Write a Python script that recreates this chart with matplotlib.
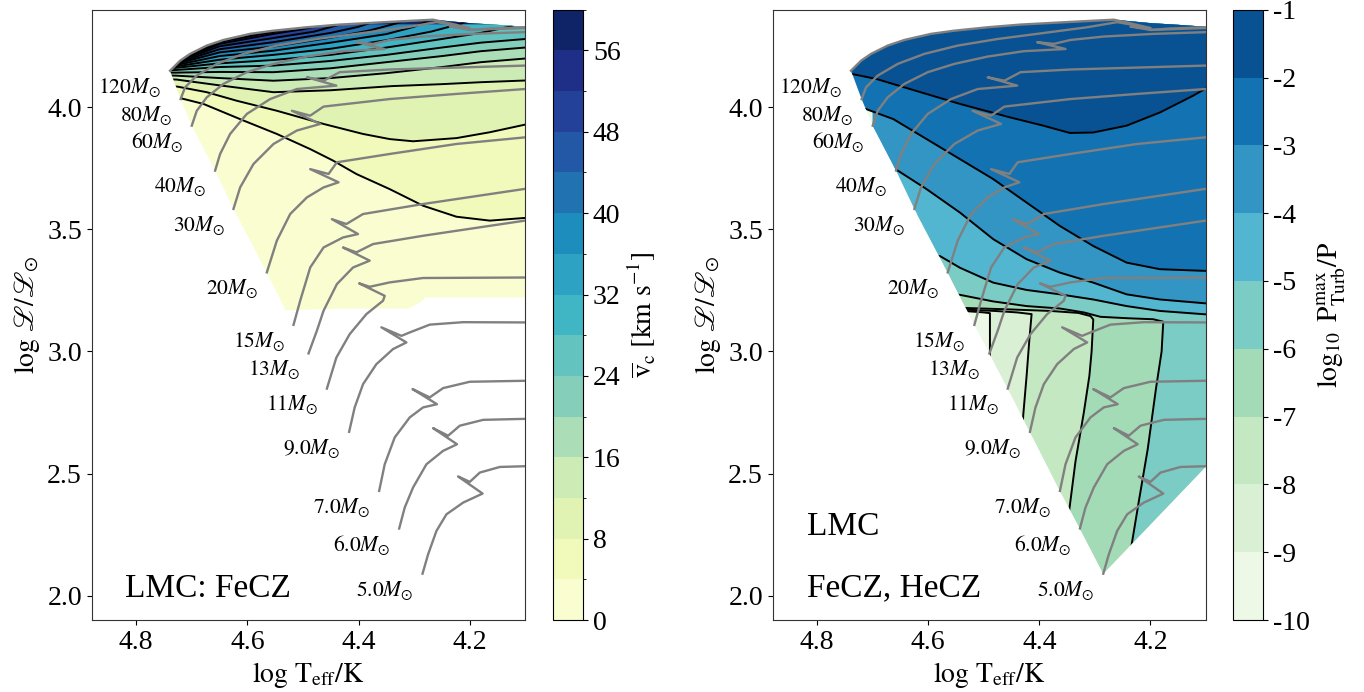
import matplotlib
matplotlib.use("Agg")
from matplotlib import pyplot as plt
from matplotlib.patches import Polygon
from matplotlib.colors import ListedColormap, BoundaryNorm
from matplotlib.cm import ScalarMappable

plt.rcParams['font.family'] = ['Liberation Serif', 'DejaVu Serif']
plt.rcParams['mathtext.fontset'] = 'stix'

# evolutionary tracks (log Teff, log L)
track_120 = [(4.739, 4.150), (4.721, 4.191), (4.703, 4.219), (4.673, 4.253), (4.643, 4.276),
             (4.595, 4.301), (4.553, 4.314), (4.493, 4.328), (4.434, 4.339), (4.344, 4.350),
             (4.266, 4.359), (4.236, 4.344), (4.200, 4.325), (4.236, 4.331), (4.200, 4.317),
             (4.164, 4.323), (4.101, 4.328)]
track_80 = [(4.720, 4.034), (4.712, 4.082), (4.691, 4.130), (4.655, 4.178), (4.607, 4.219),
            (4.547, 4.253), (4.475, 4.280), (4.404, 4.301), (4.314, 4.328), (4.260, 4.349),
            (4.224, 4.335), (4.200, 4.317), (4.101, 4.325)]
track_60 = [(4.700, 3.925), (4.691, 3.986), (4.673, 4.041), (4.643, 4.096), (4.601, 4.144),
            (4.553, 4.178), (4.493, 4.208), (4.428, 4.230), (4.353, 4.239), (4.404, 4.267),
            (4.374, 4.260), (4.344, 4.276), (4.284, 4.290), (4.194, 4.301), (4.101, 4.308)]
track_40 = [(4.658, 3.741), (4.649, 3.809), (4.631, 3.891), (4.601, 3.973), (4.559, 4.034),
            (4.511, 4.075), (4.440, 4.089), (4.493, 4.123), (4.463, 4.109), (4.434, 4.144),
            (4.344, 4.155), (4.101, 4.171)]
track_30 = [(4.625, 3.584), (4.613, 3.672), (4.589, 3.768), (4.553, 3.850), (4.511, 3.905),
            (4.469, 3.932), (4.520, 3.986), (4.487, 3.966), (4.463, 4.003), (4.344, 4.034),
            (4.224, 4.055), (4.101, 4.075)]
track_20 = [(4.565, 3.324), (4.547, 3.454), (4.523, 3.563), (4.493, 3.631), (4.463, 3.672),
            (4.436, 3.693), (4.487, 3.747), (4.454, 3.727), (4.439, 3.775), (4.344, 3.809),
            (4.224, 3.850), (4.101, 3.877)]
track_15 = [(4.517, 3.109), (4.505, 3.208), (4.487, 3.344), (4.463, 3.426), (4.428, 3.467),
            (4.401, 3.481), (4.448, 3.542), (4.422, 3.522), (4.392, 3.563), (4.284, 3.604),
            (4.101, 3.666)]
track_13 = [(4.490, 2.992), (4.475, 3.085), (4.463, 3.167), (4.439, 3.276), (4.410, 3.344),
            (4.380, 3.372), (4.428, 3.426), (4.404, 3.406), (4.374, 3.440), (4.284, 3.474),
            (4.101, 3.536)]
track_11 = [(4.457, 2.848), (4.440, 2.975), (4.416, 3.071), (4.386, 3.153), (4.356, 3.208),
            (4.353, 3.228), (4.399, 3.279), (4.380, 3.265), (4.344, 3.283), (4.284, 3.301),
            (4.101, 3.303)]
track_9 = [(4.417, 2.671), (4.407, 2.771), (4.392, 2.866), (4.368, 2.948), (4.338, 3.010),
           (4.314, 3.037), (4.359, 3.099), (4.323, 3.064), (4.308, 3.078), (4.272, 3.110),
           (4.212, 3.120), (4.101, 3.119)]
track_7 = [(4.363, 2.429), (4.353, 2.538), (4.335, 2.648), (4.308, 2.730), (4.284, 2.771),
           (4.259, 2.784), (4.303, 2.846), (4.272, 2.812), (4.248, 2.850), (4.200, 2.876),
           (4.101, 2.880)]
track_6 = [(4.327, 2.275), (4.317, 2.361), (4.302, 2.443), (4.278, 2.538), (4.248, 2.593),
           (4.223, 2.620), (4.266, 2.686), (4.239, 2.655), (4.218, 2.696), (4.176, 2.720),
           (4.101, 2.724)]
track_5 = [(4.285, 2.090), (4.275, 2.169), (4.260, 2.265), (4.242, 2.333), (4.212, 2.381),
           (4.177, 2.418), (4.221, 2.488), (4.200, 2.466), (4.182, 2.504), (4.146, 2.527),
           (4.101, 2.530)]

tracks = [track_120, track_80, track_60, track_40, track_30, track_20, track_15,
          track_13, track_11, track_9, track_7, track_6, track_5]
track_labels = ['120', '80', '60', '40', '30', '20', '15', '13', '11',
                '9.0', '7.0', '6.0', '5.0']

# edges of the computed grid
top_edge = [(4.739, 4.150), (4.721, 4.191), (4.703, 4.219), (4.673, 4.253), (4.643, 4.276),
            (4.595, 4.301), (4.553, 4.314), (4.493, 4.328), (4.434, 4.339), (4.344, 4.350),
            (4.266, 4.359), (4.200, 4.345), (4.150, 4.338), (4.100, 4.330)]
left_bottom_edge = [(4.100, 3.222), (4.280, 3.222), (4.290, 3.200), (4.310, 3.176),
                    (4.450, 3.175), (4.531, 3.168)]
right_bottom_edge = [(4.100, 2.530), (4.285, 2.090)]

# left panel: mean convective velocity contours (km/s), levels 4..56
vc_levels = list(range(0, 61, 4))
vc_4 = [(4.763, 4.038), (4.721, 4.038), (4.679, 4.014), (4.607, 3.946), (4.547, 3.891),
        (4.487, 3.829), (4.446, 3.782), (4.404, 3.727), (4.344, 3.665), (4.284, 3.597),
        (4.224, 3.552), (4.164, 3.536), (4.101, 3.547), (4.080, 3.549)]
vc_8 = [(4.763, 4.085), (4.726, 4.085), (4.673, 4.062), (4.619, 4.027), (4.547, 3.986),
        (4.463, 3.932), (4.392, 3.891), (4.344, 3.870), (4.302, 3.861), (4.224, 3.874),
        (4.164, 3.898), (4.101, 3.929), (4.080, 3.939)]
vc_12 = [(4.763, 4.114), (4.728, 4.114), (4.650, 4.090), (4.553, 4.062), (4.450, 4.070),
         (4.340, 4.087), (4.250, 4.095), (4.180, 4.103), (4.100, 4.110), (4.080, 4.112)]
vc_16 = [(4.763, 4.130), (4.730, 4.130), (4.650, 4.120), (4.553, 4.109), (4.450, 4.120),
         (4.350, 4.140), (4.250, 4.165), (4.180, 4.185), (4.100, 4.200), (4.080, 4.203)]
vc_20 = [(4.763, 4.142), (4.733, 4.142), (4.650, 4.145), (4.553, 4.144), (4.450, 4.160),
         (4.350, 4.185), (4.250, 4.210), (4.180, 4.230), (4.100, 4.245), (4.080, 4.248)]
vc_24 = [(4.763, 4.152), (4.736, 4.152), (4.650, 4.165), (4.553, 4.171), (4.450, 4.190),
         (4.350, 4.215), (4.250, 4.245), (4.180, 4.265), (4.100, 4.280), (4.080, 4.283)]
vc_28 = [(4.763, 4.160), (4.737, 4.160), (4.650, 4.180), (4.553, 4.194), (4.450, 4.215),
         (4.350, 4.245), (4.250, 4.280), (4.180, 4.305), (4.130, 4.330), (4.080, 4.360)]
vc_32 = [(4.763, 4.165), (4.736, 4.165), (4.650, 4.195), (4.553, 4.215), (4.450, 4.240),
         (4.350, 4.275), (4.270, 4.310), (4.220, 4.340), (4.180, 4.370)]
vc_36 = [(4.763, 4.170), (4.735, 4.170), (4.650, 4.210), (4.553, 4.232), (4.450, 4.265),
         (4.350, 4.300), (4.300, 4.330), (4.260, 4.370)]
vc_40 = [(4.763, 4.175), (4.733, 4.175), (4.650, 4.225), (4.553, 4.249), (4.450, 4.285),
         (4.380, 4.315), (4.330, 4.345), (4.300, 4.370)]
vc_44 = [(4.763, 4.180), (4.730, 4.180), (4.650, 4.238), (4.553, 4.267), (4.450, 4.305),
         (4.400, 4.330), (4.360, 4.360)]
vc_48 = [(4.763, 4.185), (4.728, 4.185), (4.650, 4.250), (4.553, 4.284), (4.480, 4.310),
         (4.440, 4.335), (4.400, 4.360)]
vc_52 = [(4.763, 4.190), (4.725, 4.190), (4.650, 4.260), (4.553, 4.301), (4.500, 4.320),
         (4.460, 4.340), (4.440, 4.360)]
vc_56 = [(4.763, 4.196), (4.720, 4.196), (4.650, 4.268), (4.580, 4.298), (4.553, 4.309),
         (4.520, 4.325), (4.500, 4.340)]
vc_lines = [vc_4, vc_8, vc_12, vc_16, vc_20, vc_24, vc_28, vc_32, vc_36, vc_40,
            vc_44, vc_48, vc_52, vc_56]

# right panel: log10 Pturb/P contours, levels -9..-2
pt_levels = list(range(-10, 0))
pt_m9 = [(4.620, 3.168), (4.530, 3.165), (4.500, 3.160), (4.489, 3.157), (4.489, 3.015),
         (4.489, 2.800), (4.490, 1.800)]
pt_m8 = [(4.620, 3.174), (4.530, 3.171), (4.480, 3.166), (4.440, 3.160), (4.414, 3.153),
         (4.418, 3.050), (4.423, 2.900), (4.429, 2.741), (4.435, 2.500), (4.440, 1.800)]
pt_m7 = [(4.620, 3.182), (4.530, 3.178), (4.450, 3.172), (4.380, 3.166), (4.330, 3.158),
         (4.308, 3.145), (4.303, 3.131), (4.306, 3.000), (4.310, 2.900), (4.320, 2.750),
         (4.335, 2.550), (4.345, 2.372), (4.355, 2.200), (4.360, 1.800)]
pt_m6 = [(4.620, 3.238), (4.543, 3.232), (4.483, 3.205), (4.423, 3.186), (4.363, 3.176),
         (4.320, 3.160), (4.290, 3.142), (4.240, 3.136), (4.195, 3.132), (4.177, 3.122),
         (4.180, 3.000), (4.190, 2.850), (4.205, 2.600), (4.220, 2.400), (4.234, 2.208),
         (4.245, 2.000), (4.260, 1.800)]
pt_m5 = [(4.700, 3.391), (4.579, 3.391), (4.543, 3.343), (4.483, 3.282), (4.423, 3.252),
         (4.363, 3.234), (4.303, 3.213), (4.243, 3.186), (4.183, 3.166), (4.100, 3.152),
         (4.075, 3.148)]
pt_m4 = [(4.700, 3.744), (4.657, 3.744), (4.603, 3.665), (4.543, 3.569), (4.483, 3.460),
         (4.423, 3.378), (4.363, 3.323), (4.303, 3.282), (4.243, 3.234), (4.183, 3.213),
         (4.100, 3.197), (4.075, 3.195)]
pt_m3 = [(4.753, 3.993), (4.712, 3.993), (4.663, 3.952), (4.603, 3.870), (4.543, 3.788),
         (4.483, 3.706), (4.423, 3.610), (4.363, 3.514), (4.303, 3.432), (4.243, 3.364),
         (4.183, 3.337), (4.100, 3.330), (4.075, 3.330)]
pt_m2 = [(4.783, 4.137), (4.738, 4.137), (4.693, 4.116), (4.633, 4.075), (4.543, 4.014),
         (4.453, 3.959), (4.393, 3.925), (4.345, 3.895), (4.303, 3.897), (4.243, 3.925),
         (4.183, 3.979), (4.123, 4.048), (4.100, 4.078), (4.075, 4.102)]
pt_lines = [pt_m9, pt_m8, pt_m7, pt_m6, pt_m5, pt_m4, pt_m3, pt_m2]


def band_colors(cmap_name, n):
    cmap = plt.get_cmap(cmap_name)
    return [cmap((i + 0.5) / n) for i in range(n)]


def draw_field(ax, domain, lines, colors):
    clip = Polygon(domain, closed=True, transform=ax.transData)
    base = Polygon(domain, closed=True, facecolor=colors[0], edgecolor='none', zorder=1)
    ax.add_patch(base)
    for k, line in enumerate(lines):
        x0 = line[0][0]
        y1 = line[-1][1]
        region = line + [(3.9, y1), (3.9, 5.0), (x0, 5.0)]
        p = Polygon(region, closed=True, facecolor=colors[k + 1], edgecolor='none', zorder=1)
        ax.add_patch(p)
        p.set_clip_path(clip)
    for line in lines:
        xs = [pt[0] for pt in line]
        ys = [pt[1] for pt in line]
        ln, = ax.plot(xs, ys, color='black', lw=1.4, zorder=2)
        ln.set_clip_path(clip)


def draw_tracks(ax):
    for tr, lab in zip(tracks, track_labels):
        xs = [pt[0] for pt in tr]
        ys = [pt[1] for pt in tr]
        ax.plot(xs, ys, color='#808080', lw=1.7, zorder=3, solid_joinstyle='round')
        ax.text(tr[0][0] + 0.016, tr[0][1] - 0.068, r'$%sM_{\odot}$' % lab,
                ha='right', va='center', fontsize=15.5, zorder=4)


def style_axes(ax):
    ax.set_xlim(4.88, 4.10)
    ax.set_ylim(1.9, 4.4)
    ax.set_xticks([4.8, 4.6, 4.4, 4.2])
    ax.set_yticks([2.0, 2.5, 3.0, 3.5, 4.0])
    ax.tick_params(labelsize=20)
    ax.set_xlabel(r'$\log\,\mathrm{T_{eff}/K}$', fontsize=20)
    ax.set_ylabel(r'$\log\,\mathscr{L}/\mathscr{L}_{\odot}$', fontsize=20)
    for s in ax.spines.values():
        s.set_color('#333333')


fig = plt.figure(figsize=(13.64, 6.92), dpi=100)
ax1 = fig.add_axes([0.0672, 0.104, 0.318, 0.882])
cax1 = fig.add_axes([0.4052, 0.104, 0.0224, 0.882])
ax2 = fig.add_axes([0.5665, 0.104, 0.3177, 0.882])
cax2 = fig.add_axes([0.9042, 0.104, 0.022, 0.882])

zams = [tr[0] for tr in tracks]

# left panel
vc_colors = band_colors('YlGnBu', len(vc_levels) - 1)
left_zams = [pt for pt in zams if pt[1] > 3.2][::-1]
left_domain = top_edge + left_bottom_edge + left_zams
draw_field(ax1, left_domain, vc_lines, vc_colors)
draw_tracks(ax1)
style_axes(ax1)
ax1.text(0.077, 0.038, 'LMC: FeCZ', transform=ax1.transAxes, fontsize=24)

cb1 = fig.colorbar(ScalarMappable(norm=BoundaryNorm(vc_levels, len(vc_levels) - 1),
                                  cmap=ListedColormap(vc_colors)), cax=cax1)
cb1.set_ticks(list(range(0, 57, 8)))
cb1.ax.tick_params(labelsize=20)
cb1.set_label(r'$\overline{\mathrm{v}}_{\mathrm{c}}\ [\mathrm{km\ s^{-1}}]$', fontsize=20)

# right panel
pt_colors = band_colors('GnBu', len(pt_levels) - 1)
right_domain = top_edge + right_bottom_edge + zams[::-1]
draw_field(ax2, right_domain, pt_lines, pt_colors)
draw_tracks(ax2)
style_axes(ax2)
ax2.text(0.078, 0.139, 'LMC', transform=ax2.transAxes, fontsize=24)
ax2.text(0.078, 0.039, 'FeCZ, HeCZ', transform=ax2.transAxes, fontsize=24)

cb2 = fig.colorbar(ScalarMappable(norm=BoundaryNorm(pt_levels, len(pt_levels) - 1),
                                  cmap=ListedColormap(pt_colors)), cax=cax2)
cb2.set_ticks(pt_levels)
cb2.set_ticklabels(['%d' % v for v in pt_levels])
cb2.ax.tick_params(labelsize=20)
cb2.set_label(r'$\log_{10}\ \mathrm{P_{Turb}^{max}/P}$', fontsize=20)

fig.savefig('out.png', dpi=100)
